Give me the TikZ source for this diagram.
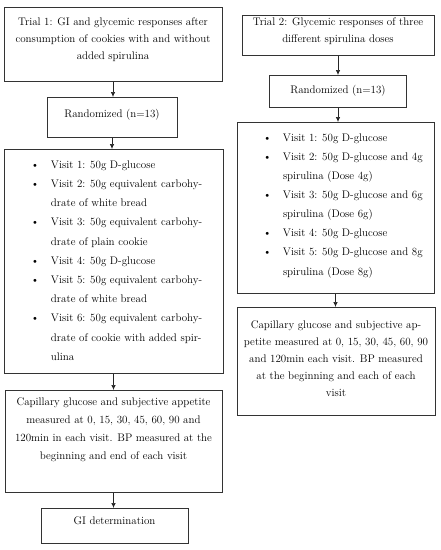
\documentclass[tikz,border=0pt]{standalone}
\usetikzlibrary{arrows.meta}

\newcommand{\boxtext}[4]{\begin{minipage}[c][#2][t]{#1}\vspace*{\dimexpr#3-\ht\strutbox\relax}#4\end{minipage}}

\begin{document}
\begin{tikzpicture}
  [x=1pt,y=-1pt,
   box/.style={draw=black!80,line width=0.7pt,inner sep=0pt,anchor=north,font=\fontsize{11}{17}\selectfont},
   listbox/.style={box,font=\fontsize{11}{19.2}\selectfont},
   link/.style={-{Latex[length=5pt,width=4.5pt]},line width=0.7pt,black!85}]
  \useasboundingbox (0,0) rectangle (441,550);

  % trial 1
  \node[box] (t1) at (113,7) {\boxtext{218pt}{74pt}{18.5pt}{\centering\strut Trial 1: GI and glycemic responses after\\consumption of cookies with and without\\added spirulina}};
  \node[box] (r1) at (112,97) {\boxtext{130pt}{40pt}{20.5pt}{\centering\strut Randomized (n=13)}};
  \node[listbox] (v1) at (113.5,149) {\boxtext{219pt}{224pt}{19pt}{\hspace*{27pt}\strut\begin{tabular}[t]{@{}p{20pt}@{}l@{}}
    \textbullet & Visit 1: 50g D-glucose\\
    \textbullet & Visit 2: 50g equivalent carbohy-\\
                & drate of white bread\\
    \textbullet & Visit 3: 50g equivalent carbohy-\\
                & drate of plain cookie\\
    \textbullet & Visit 4: 50g D-glucose\\
    \textbullet & Visit 5: 50g equivalent carbohy-\\
                & drate of white bread\\
    \textbullet & Visit 6: 50g equivalent carbohy-\\
                & drate of cookie with added spir-\\
                & ulina
  \end{tabular}}};
  \node[box,font=\fontsize{11}{18}\selectfont] (c1) at (113.5,390) {\boxtext{217pt}{102pt}{15pt}{\centering\strut Capillary glucose and subjective appetite\\measured at 0, 15, 30, 45, 60, 90 and\\120min in each visit. BP measured at the\\beginning and end of each visit}};
  \node[box] (g1) at (114.5,508) {\boxtext{147pt}{35pt}{16pt}{\centering\strut GI determination}};

  % trial 2
  \node[box] (t2) at (338,15) {\boxtext{192pt}{40pt}{10.5pt}{\centering\strut Trial 2: Glycemic responses of three\\different spirulina doses}};
  \node[box] (r2) at (338,75) {\boxtext{137pt}{32pt}{18.5pt}{\centering\strut Randomized (n=13)}};
  \node[listbox,font=\fontsize{11}{19.1}\selectfont] (v2) at (335.5,122) {\boxtext{197pt}{171pt}{19pt}{\hspace*{26pt}\strut\begin{tabular}[t]{@{}p{20pt}@{}l@{}}
    \textbullet & Visit 1: 50g D-glucose\\
    \textbullet & Visit 2: 50g D-glucose and 4g\\
                & spirulina (Dose 4g)\\
    \textbullet & Visit 3: 50g D-glucose and 6g\\
                & spirulina (Dose 6g)\\
    \textbullet & Visit 4: 50g D-glucose\\
    \textbullet & Visit 5: 50g D-glucose and 8g\\
                & spirulina (Dose 8g)
  \end{tabular}}};
  \node[box] (c2) at (336,307) {\boxtext{198pt}{108pt}{21pt}{\centering\strut Capillary glucose and subjective ap-\\petite measured at 0, 15, 30, 45, 60, 90\\and 120min each visit. BP measured\\at the beginning and each of each\\visit}};

  \foreach \from/\to in {t1/r1,r1/v1,v1/c1,c1/g1,t2/r2,r2/v2,v2/c2}
    \draw[link] (\from.south) -- (\from.south |- \to.north);
\end{tikzpicture}
\end{document}
